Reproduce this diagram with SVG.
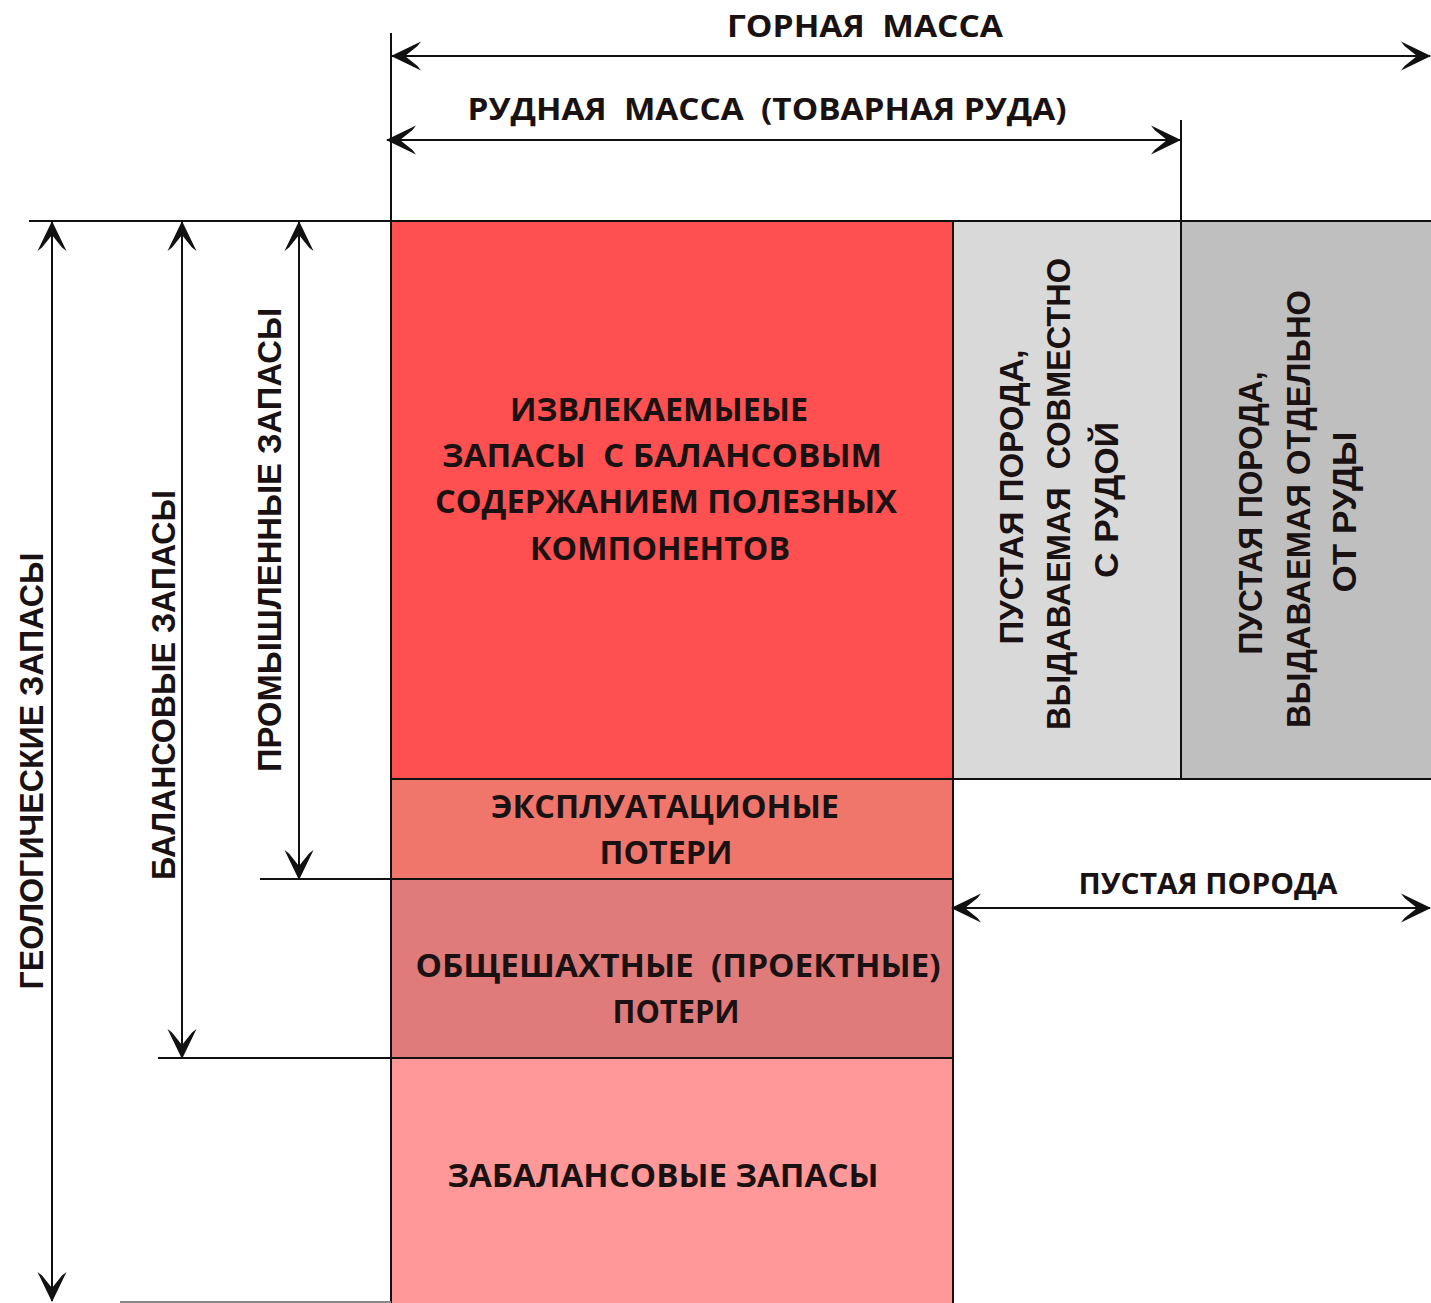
<svg xmlns="http://www.w3.org/2000/svg" width="1431" height="1303" viewBox="0 0 1431 1303">
<style>
.box{stroke:#111;stroke-width:2}
.ln{stroke:#111;stroke-width:2;fill:none}
.arr{stroke:#111;stroke-width:2;fill:none;marker-start:url(#ah);marker-end:url(#ah)}
.t{font-family:"Liberation Sans",Arial,sans-serif;font-weight:bold;fill:#1a1212;text-anchor:middle}
.c{font-family:"Open Sans","Liberation Sans",sans-serif;font-weight:bold;fill:#1a1212;text-anchor:middle}
.s33{font-size:33px}
.s31{font-size:31px}
.s29{font-size:29px}
</style>
<defs>
<marker id="ah" markerUnits="userSpaceOnUse" viewBox="-31 -16 33 32" refX="0" refY="0" markerWidth="33" markerHeight="32" orient="auto-start-reverse">
<path d="M1,0 L-29,-14.5 L-25.5,-10 L-13,0 L-25.5,10 L-29,14.5 Z" fill="#111"/>
</marker>
</defs>
<rect width="1431" height="1303" fill="#fff"/>

<g id="node-extractable">
<rect class="box" x="391" y="221" width="562" height="558" fill="#FE5050"/>
<text class="c s33" x="659" y="421" textLength="298" lengthAdjust="spacingAndGlyphs">ИЗВЛЕКАЕМЫЕЫЕ</text>
<text class="c s33" x="662" y="467" textLength="440" lengthAdjust="spacingAndGlyphs" xml:space="preserve">ЗАПАСЫ  С БАЛАНСОВЫМ</text>
<text class="c s33" x="666" y="513" textLength="462" lengthAdjust="spacingAndGlyphs">СОДЕРЖАНИЕМ ПОЛЕЗНЫХ</text>
<text class="c s33" x="660" y="560" textLength="260" lengthAdjust="spacingAndGlyphs">КОМПОНЕНТОВ</text>
</g>

<g id="node-waste-joint">
<rect class="box" x="953" y="221" width="228" height="558" fill="#D9D9D9"/>
<text class="t s33" transform="translate(1023,497) rotate(-90)" textLength="295" lengthAdjust="spacingAndGlyphs">ПУСТАЯ ПОРОДА,</text>
<text class="t s33" transform="translate(1070,494) rotate(-90)" textLength="472" lengthAdjust="spacingAndGlyphs" xml:space="preserve">ВЫДАВАЕМАЯ  СОВМЕСТНО</text>
<text class="t s33" transform="translate(1118,500) rotate(-90)" textLength="156" lengthAdjust="spacingAndGlyphs">С РУДОЙ</text>
</g>

<g id="node-waste-separate">
<rect class="box" x="1181" y="221" width="252" height="558" fill="#BFBFBF"/>
<text class="t s33" transform="translate(1262,513) rotate(-90)" textLength="283" lengthAdjust="spacingAndGlyphs">ПУСТАЯ ПОРОДА,</text>
<text class="t s33" transform="translate(1310,509) rotate(-90)" textLength="438" lengthAdjust="spacingAndGlyphs">ВЫДАВАЕМАЯ ОТДЕЛЬНО</text>
<text class="t s33" transform="translate(1356,512) rotate(-90)" textLength="161" lengthAdjust="spacingAndGlyphs">ОТ РУДЫ</text>
</g>

<g id="node-operational-losses">
<rect class="box" x="391" y="779" width="562" height="100" fill="#F0766C"/>
<text class="c s33" x="665" y="818" textLength="348" lengthAdjust="spacingAndGlyphs">ЭКСПЛУАТАЦИОНЫЕ</text>
<text class="c s33" x="666" y="864" textLength="133" lengthAdjust="spacingAndGlyphs">ПОТЕРИ</text>
</g>

<g id="node-design-losses">
<rect class="box" x="391" y="879" width="562" height="179" fill="#E07B7B"/>
<text class="c s33" x="678" y="977" textLength="525" lengthAdjust="spacingAndGlyphs" xml:space="preserve">ОБЩЕШАХТНЫЕ  (ПРОЕКТНЫЕ)</text>
<text class="c s33" x="676" y="1023" textLength="127" lengthAdjust="spacingAndGlyphs">ПОТЕРИ</text>
</g>

<g id="node-offbalance">
<rect class="box" x="391" y="1058" width="562" height="247" fill="#FF9999"/>
<text class="c s33" x="663" y="1187" textLength="431" lengthAdjust="spacingAndGlyphs">ЗАБАЛАНСОВЫЕ ЗАПАСЫ</text>
</g>

<g id="connectors">
<path class="ln" d="M391,33 V221"/>
<path class="ln" d="M1181,120 V221"/>
<path class="ln" d="M29,221 H391"/>
<path class="ln" d="M260,879 H391"/>
<path class="ln" d="M158,1058 H391"/>
<path d="M120,1302 H391" stroke="#888" stroke-width="2"/>
<path class="arr" d="M392,56 H1430"/>
<path class="arr" d="M387,140 H1180"/>
<path class="arr" d="M52,222 V1301"/>
<path class="arr" d="M182,222 V1058"/>
<path class="arr" d="M299,222 V879"/>
<path class="arr" d="M952,908 H1430"/>
</g>

<g id="labels">
<text class="c s31" x="865" y="37" textLength="276" lengthAdjust="spacingAndGlyphs" xml:space="preserve">ГОРНАЯ  МАССА</text>
<text class="c s31" x="767" y="120" textLength="599" lengthAdjust="spacingAndGlyphs" xml:space="preserve">РУДНАЯ  МАССА  (ТОВАРНАЯ РУДА)</text>
<text class="c s29" x="1208" y="894" textLength="259" lengthAdjust="spacingAndGlyphs">ПУСТАЯ ПОРОДА</text>
<text class="t s33" transform="translate(43,771) rotate(-90)" textLength="437" lengthAdjust="spacingAndGlyphs">ГЕОЛОГИЧЕСКИЕ ЗАПАСЫ</text>
<text class="t s33" transform="translate(175,685) rotate(-90)" textLength="390" lengthAdjust="spacingAndGlyphs">БАЛАНСОВЫЕ ЗАПАСЫ</text>
<text class="t s33" transform="translate(281,540) rotate(-90)" textLength="464" lengthAdjust="spacingAndGlyphs">ПРОМЫШЛЕННЫЕ ЗАПАСЫ</text>
</g>
</svg>
